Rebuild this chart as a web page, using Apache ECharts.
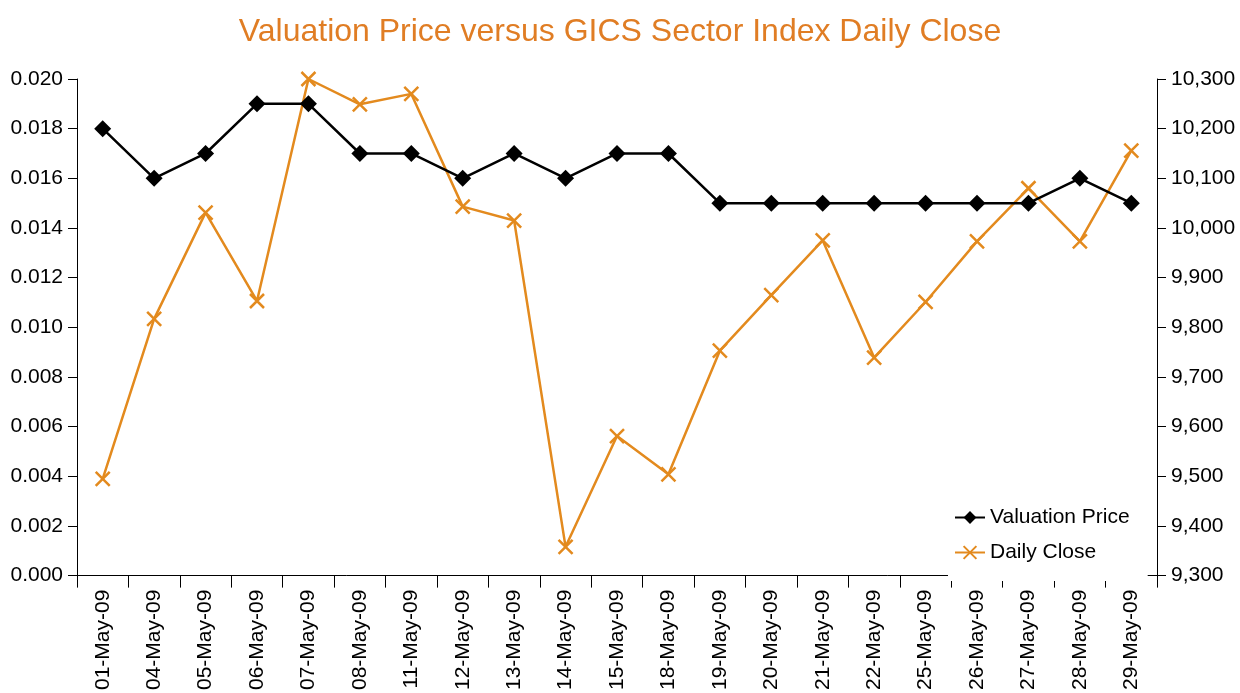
<!DOCTYPE html>
<html>
<head>
<meta charset="utf-8">
<script src="https://cdn.jsdelivr.net/npm/echarts@6/dist/echarts.min.js"></script>
<style>
  html, body { margin: 0; padding: 0; background: #fff; }
  #chart { width: 1240px; height: 693px; }
</style>
</head>
<body>
<div id="chart"></div>
<script>
// categories and values
const dates = ['01-May-09', '04-May-09', '05-May-09', '06-May-09', '07-May-09', '08-May-09', '11-May-09',
  '12-May-09', '13-May-09', '14-May-09', '15-May-09', '18-May-09', '19-May-09', '20-May-09', '21-May-09',
  '22-May-09', '25-May-09', '26-May-09', '27-May-09', '28-May-09', '29-May-09'];
const valuationPrice = [0.018, 0.016, 0.017, 0.019, 0.019, 0.017, 0.017, 0.016, 0.017, 0.016, 0.017,
  0.017, 0.015, 0.015, 0.015, 0.015, 0.015, 0.015, 0.015, 0.016, 0.015];
const dailyClose = [9495, 9817, 10031, 9853, 10300, 10249, 10270, 10043, 10015, 9358, 9581,
  9504, 9753, 9865, 9975, 9739, 9851, 9973, 10080, 9973, 10156];

const FONT = 'Liberation Sans, Arial, sans-serif';
const ORANGE = '#E38A1E';
const crossPath = 'path://M0,0L10,10M10,0L0,10';

const chart = echarts.init(document.getElementById('chart'));

const axisCommon = {
  axisLine: { show: true, lineStyle: { color: '#000', width: 1 } },
  axisTick: { show: true, length: 9, lineStyle: { color: '#000' } },
  axisLabel: { color: '#000', fontSize: 21, fontFamily: FONT, margin: 14 },
  splitLine: { show: false }
};

chart.setOption({
  animation: false,
  title: {
    text: 'Valuation Price versus GICS Sector Index Daily Close',
    left: 'center',
    top: 11,
    textStyle: { color: '#E07D24', fontSize: 32, fontWeight: 'normal', fontFamily: FONT }
  },
  legend: {
    orient: 'vertical',
    left: 948,
    top: 499,
    backgroundColor: '#fff',
    padding: [8, 18, 18, 6],
    itemGap: 14,
    itemWidth: 30,
    itemHeight: 16,
    textStyle: { fontSize: 21, color: '#000', fontFamily: FONT },
    data: ['Valuation Price', 'Daily Close']
  },
  grid: { left: 77, right: 83, top: 79, bottom: 115 },
  xAxis: {
    type: 'category',
    data: dates,
    boundaryGap: true,
    axisLine: { show: true, lineStyle: { color: '#000' } },
    axisTick: { show: true, length: 12, interval: 0, lineStyle: { color: '#000' } },
    axisLabel: { rotate: 90, interval: 0, color: '#000', fontSize: 21, fontFamily: FONT, margin: 14 }
  },
  yAxis: [
    Object.assign({}, axisCommon, {
      type: 'value',
      min: 0,
      max: 0.02,
      interval: 0.002,
      position: 'left',
      axisLabel: Object.assign({}, axisCommon.axisLabel, {
        formatter: v => v.toFixed(3)
      })
    }),
    Object.assign({}, axisCommon, {
      type: 'value',
      min: 9300,
      max: 10300,
      interval: 100,
      position: 'right',
      axisLabel: Object.assign({}, axisCommon.axisLabel, {
        formatter: v => v.toLocaleString('en-US')
      })
    })
  ],
  series: [
    {
      name: 'Valuation Price',
      type: 'line',
      yAxisIndex: 0,
      data: valuationPrice,
      symbol: 'diamond',
      symbolSize: 17,
      lineStyle: { color: '#000', width: 2.5 },
      itemStyle: { color: '#000' },
      z: 3
    },
    {
      name: 'Daily Close',
      type: 'line',
      yAxisIndex: 1,
      data: dailyClose,
      symbol: crossPath,
      symbolSize: 14,
      lineStyle: { color: ORANGE, width: 2.5 },
      itemStyle: { color: ORANGE, borderColor: ORANGE, borderWidth: 2.5 },
      z: 2
    }
  ]
});
</script>
</body>
</html>
